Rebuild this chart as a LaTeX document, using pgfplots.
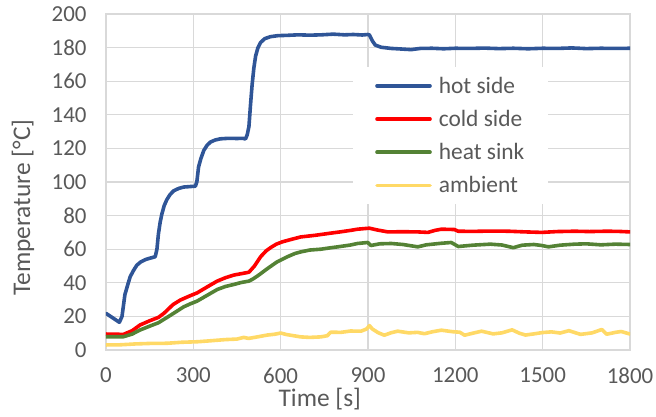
\documentclass[border=0pt]{standalone}
\usepackage{fontspec}
\setmainfont{Carlito}
\usepackage{pgfplots}
\pgfplotsset{compat=1.18}
\definecolor{gridgray}{HTML}{D9D9D9}
\definecolor{txtgray}{HTML}{595959}
\definecolor{hotc}{HTML}{2F5597}
\definecolor{coldc}{HTML}{FF0000}
\definecolor{sinkc}{HTML}{548235}
\definecolor{ambc}{HTML}{FFD966}
\begin{document}
\begin{tikzpicture}
\begin{axis}[
 scale only axis, width=524bp, height=336bp,
 xmin=0, xmax=1800, ymin=0, ymax=200,
 xtick={0,300,...,1800}, ytick={0,20,...,200},
 grid=major, major grid style={draw=gridgray, line width=1.3bp},
 axis line style={draw=gridgray, line width=1.3bp},
 major tick length=0pt,
 tick label style={font=\fontsize{23}{27}\selectfont, text=txtgray},
 /pgf/number format/assume math mode=true,
 /pgf/number format/1000 sep={},
 xticklabel style={yshift=-14.5bp},
 yticklabel style={xshift=-16bp},
 xlabel={Time [s]}, ylabel={Temperature [°C]},
 label style={font=\fontsize{25.5}{30}\selectfont, text=txtgray},
 xlabel style={at={(axis description cs:0.408,-0.1690)}, anchor=base},
 ylabel style={at={(axis description cs:-0.145,0.424)}, anchor=base, rotate=0},
 legend style={at={(rel axis cs:0.4714,0.843)}, anchor=north west, draw=none, fill=white,
   font=\fontsize{23.5}{28}\selectfont, text=txtgray, inner xsep=22bp, inner ysep=8bp,
   row sep=11.5bp, column sep=5bp, cells={anchor=west}},
 legend image code/.code={\draw[#1] (0bp,0bp) -- (53bp,0bp);},
 every axis plot/.append style={line width=3.6bp, line join=round, line cap=round},
 clip=true,
]
\addplot[hotc] coordinates {
(0,21.8)(20,19.5)(46,16.5)(55,20)(65,33)(75,39)(83,43.6)(95,47.5)(106,50.5)(120,52.5)
(135,53.8)(150,54.6)(169,55.5)(175,60)(180,69)(186,76)(192,81)(200,86)(209,89.5)(220,92.5)
(232,94.7)(250,96.2)(267,97)(290,97.3)(307,97.5)(312,100)(318,109)(326,114)(336,118.8)
(347,121.8)(359,123.8)(375,125)(393,125.7)(420,126)(450,125.9)(470,126)(479,125.6)(485,128)
(491,133)(496,145)(502,158)(508,168)(514,175)(522,180)(531,183)(545,185.3)(565,186.5)
(590,187.1)(623,187.3)(660,187.6)(700,187.4)(740,187.6)(780,188.0)(820,187.6)(850,187.8)
(880,187.5)(900,187.8)(905,187.5)(915,184)(925,181.5)(945,180.2)(980,179.5)(1010,179.2)
(1048,178.8)(1080,179.5)(1120,179.6)(1160,179.3)(1200,179.6)(1250,179.5)(1300,179.7)
(1350,179.4)(1400,179.6)(1450,179.3)(1500,179.6)(1550,179.5)(1600,179.8)(1650,179.4)
(1700,179.6)(1750,179.5)(1800,179.6)
};
\addlegendentry{hot side}
\addplot[coldc] coordinates {
(0,9.5)(30,9.4)(60,9.3)(90,11.5)(117,14.9)(150,17.4)(180,19.4)(200,22)(230,27)(255,29.7)
(285,32)(313,34)(350,37.8)(382,41)(410,43)(439,44.6)(470,45.6)(491,46.3)(510,50)(531,55.5)
(550,59)(566,61)(585,63)(606,64.4)(640,66)(669,67.3)(720,68.3)(761,69.3)(800,70.2)(840,71.2)
(864,71.9)(890,72.3)(905,72.5)(930,71.5)(968,70.3)(1020,70.4)(1070,70.3)(1106,70)(1130,71.2)
(1152,71.9)(1180,71.8)(1197,71.7)(1210,70.7)(1260,70.6)(1320,70.8)(1382,70.7)(1440,70.3)
(1497,70)(1550,70.5)(1611,70.7)(1660,70.5)(1720,70.7)(1760,70.6)(1800,70.3)
};
\addlegendentry{cold side}
\addplot[sinkc] coordinates {
(0,7.9)(30,7.9)(60,7.9)(90,9.5)(117,11.9)(150,14.2)(180,16.2)(220,20.5)(267,25.7)(290,27.5)
(313,29.1)(350,32.8)(382,36)(410,37.8)(439,39)(465,40.2)(491,41)(505,42.3)(520,44)(555,48.5)
(588,52.5)(623,55.5)(650,57.5)(669,58.4)(700,59.5)(738,60)(770,60.8)(800,61.5)(840,62.5)
(864,63.4)(899,64)(910,62.2)(940,63.2)(980,63.4)(1020,62.8)(1071,61.4)(1100,62.6)(1150,63.5)
(1186,64)(1210,61.6)(1260,62.4)(1320,63)(1360,62.5)(1399,60.9)(1430,62.4)(1470,62.8)
(1497,62.2)(1520,61.4)(1560,62.4)(1610,63)(1650,63.2)(1700,62.6)(1750,63)(1800,62.8)
};
\addlegendentry{heat sink}
\addplot[ambc] coordinates {
(0,3)(50,3.1)(100,3.6)(150,3.9)(209,4)(260,4.6)(313,4.9)(360,5.5)(410,6.2)(450,6.5)(473,7.5)
(490,6.9)(520,7.8)(554,8.9)(580,9.4)(600,10.1)(620,9.2)(669,7.8)(700,7.5)(738,7.8)(760,8.5)
(772,10.6)(807,10.5)(840,11.3)(876,11.2)(895,12.5)(905,14.5)(915,12.5)(935,10.3)(956,8.8)
(980,10.3)(1002,11.2)(1040,10.2)(1070,10.5)(1094,9.7)(1120,10.8)(1152,11.8)(1190,10.9)(1215,10.6)
(1232,8.8)(1260,10)(1290,11.2)(1330,9.6)(1360,10.2)(1395,12)(1420,10)(1441,8.9)(1470,9.6)
(1500,10.4)(1530,10.8)(1560,10.1)(1590,11.5)(1630,9.3)(1670,10.2)(1703,12.2)(1720,9.4)(1750,10.5)
(1770,11)(1800,9.5)
};
\addlegendentry{ambient}
\end{axis}
\pgfresetboundingbox
\path (-106bp,-67bp) rectangle (550bp,350bp);
\end{tikzpicture}
\end{document}
